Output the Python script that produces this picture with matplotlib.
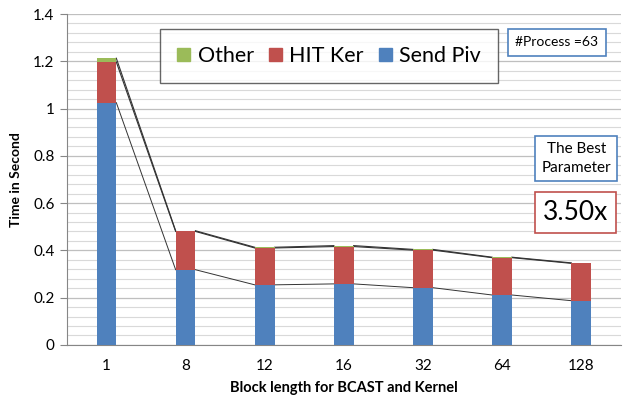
import numpy as np
import matplotlib.pyplot as plt
from matplotlib.patches import Patch

plt.rcParams['font.family'] = ['Lato', 'DejaVu Sans']

block_len = ['1', '8', '12', '16', '32', '64', '128']
send_piv = [1.025, 0.318, 0.254, 0.258, 0.242, 0.211, 0.187]
hit_ker = [0.172, 0.162, 0.156, 0.158, 0.159, 0.158, 0.158]
other = [0.016, 0.003, 0.003, 0.004, 0.003, 0.002, 0.002]

c_send = '#4F81BD'
c_hit = '#C0504D'
c_other = '#9BBB59'

fig = plt.figure(figsize=(6.25, 4.01), dpi=100)
ax = fig.add_axes([0.107, 0.140, 0.886, 0.825])

x = np.arange(len(block_len))
w = 0.25
send = np.array(send_piv)
hit = np.array(hit_ker)
oth = np.array(other)

ax.bar(x, send, w, color=c_send, zorder=3)
ax.bar(x, hit, w, bottom=send, color=c_hit, zorder=3)
ax.bar(x, oth, w, bottom=send + hit, color=c_other, zorder=3)

# series lines between bars (Excel style)
for tops, lw in [(send, 0.7), (send + hit, 0.8), (send + hit + oth, 0.8)]:
    for i in range(len(x) - 1):
        ax.plot([x[i] + w / 2, x[i + 1] - w / 2], [tops[i], tops[i + 1]],
                color='#333333', lw=lw, zorder=2)

ax.set_xlim(-0.5, len(x) - 0.5)
ax.set_ylim(0, 1.4)
ax.set_yticks(np.arange(0, 1.41, 0.2))
ax.set_yticklabels(['0', '0.2', '0.4', '0.6', '0.8', '1', '1.2', '1.4'])
ax.set_yticks(np.arange(0, 1.41, 0.04), minor=True)
ax.set_xticks(x)
ax.set_xticklabels(block_len)

ax.grid(axis='y', which='minor', color='#D9D9D9', lw=0.8, zorder=0)
ax.grid(axis='y', which='major', color='#BFBFBF', lw=0.9, zorder=0)
ax.tick_params(axis='y', which='minor', length=0)
ax.tick_params(axis='y', which='major', length=5, color='#868686', labelsize=11, pad=4)
ax.tick_params(axis='x', length=0, labelsize=11, pad=10)

for s in ['top', 'right']:
    ax.spines[s].set_visible(False)
ax.spines['left'].set_color('#868686')
ax.spines['bottom'].set_color('#868686')

ax.set_ylabel('Time in Second', fontsize=10, fontweight='bold', labelpad=8)
ax.set_xlabel('Block length for BCAST and Kernel', fontsize=10.5, fontweight='bold', labelpad=6)

handles = [Patch(color=c_other), Patch(color=c_hit), Patch(color=c_send)]
leg = ax.legend(handles, ['Other', 'HIT Ker', 'Send Piv'], ncol=3, loc='upper left',
                bbox_to_anchor=(0.168, 0.955), fontsize=15.5, frameon=True, fancybox=False,
                handlelength=0.6, handleheight=0.6, handletextpad=0.35, columnspacing=0.7,
                borderpad=0.8, borderaxespad=0)
leg.get_frame().set_edgecolor('#404040')
leg.get_frame().set_linewidth(1.0)
leg.set_zorder(5)

ax.text(0.885, 0.914, '#Process =63', transform=ax.transAxes, fontsize=10,
        ha='center', va='center', zorder=6,
        bbox=dict(boxstyle='square,pad=0.55', fc='white', ec='#4F81BD', lw=1.2))
ax.text(0.920, 0.563, 'The Best\nParameter', transform=ax.transAxes, fontsize=11,
        ha='center', va='center', linespacing=1.45, zorder=6,
        bbox=dict(boxstyle='square,pad=0.4', fc='white', ec='#4F81BD', lw=1.2))
ax.text(0.919, 0.400, '3.50x', transform=ax.transAxes, fontsize=19,
        ha='center', va='center', zorder=6,
        bbox=dict(boxstyle='square,pad=0.3', fc='white', ec='#C0504D', lw=1.2))

fig.savefig('out.png', dpi=100)
